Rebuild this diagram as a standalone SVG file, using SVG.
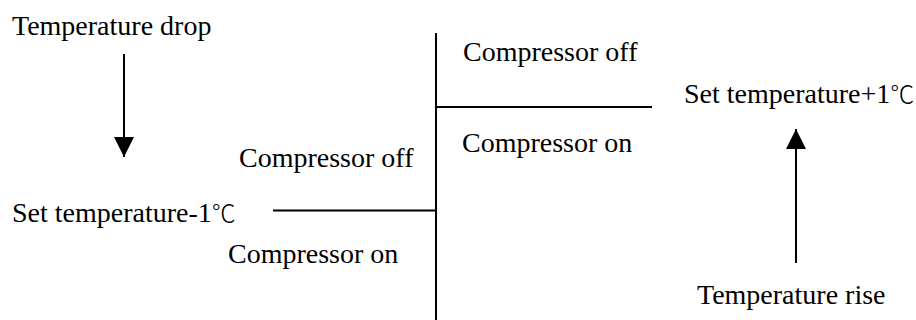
<svg xmlns="http://www.w3.org/2000/svg" width="916" height="320" viewBox="0 0 916 320">
<style>
text{font-family:"Liberation Serif","Times New Roman",Times,serif;font-size:28px;fill:#000}
.cj{font-family:"Noto Sans CJK SC",sans-serif;font-size:24px;font-weight:300}
.ln{stroke:#000;stroke-width:2;fill:none}
</style>
<defs>
<marker id="ah" viewBox="0 0 20 20" refX="20" refY="10" markerWidth="20" markerHeight="20" markerUnits="userSpaceOnUse" orient="auto">
<path d="M0,0 L20,10 L0,20 Z" fill="#000"/>
</marker>
</defs>
<rect width="916" height="320" fill="#fff"/>
<g id="connectors">
<line class="ln" x1="436" y1="33" x2="436" y2="320"/>
<line class="ln" x1="436" y1="107" x2="652" y2="107"/>
<line class="ln" x1="273" y1="210.5" x2="436" y2="210.5"/>
<line class="ln" x1="124" y1="54" x2="124" y2="157" marker-end="url(#ah)"/>
<line class="ln" x1="796" y1="263" x2="796" y2="129" marker-end="url(#ah)"/>
</g>
<g id="temp-drop"><text x="12" y="35">Temperature drop</text></g>
<g id="set-minus"><text x="12" y="222">Set temperature-1<tspan class="cj">℃</tspan></text></g>
<g id="off-left"><text x="239" y="167">Compressor off</text></g>
<g id="on-left"><text x="228" y="263">Compressor on</text></g>
<g id="off-right"><text x="463" y="61">Compressor off</text></g>
<g id="on-right"><text x="462" y="152">Compressor on</text></g>
<g id="set-plus"><text x="684" y="103">Set temperature+1<tspan class="cj">℃</tspan></text></g>
<g id="temp-rise"><text x="697" y="304">Temperature rise</text></g>
</svg>
